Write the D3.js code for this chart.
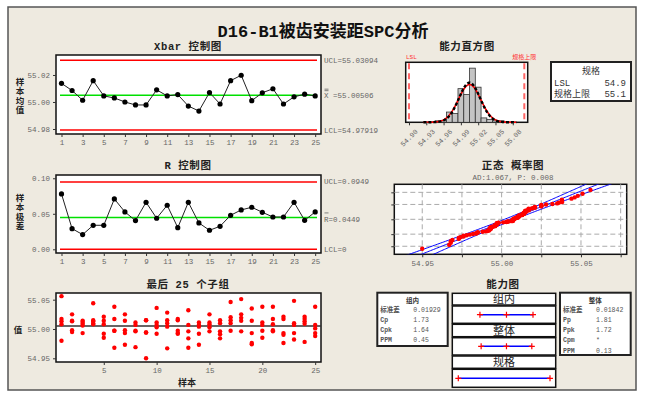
<!DOCTYPE html>
<html>
<head>
<meta charset="utf-8">
<script src="https://cdn.jsdelivr.net/npm/d3@7.9.0/dist/d3.min.js"></script>
<style>
  body { margin: 0; background: #fff; }
  svg { display: block; }
  text { font-family: "Liberation Mono", "Noto Sans CJK SC", monospace; }
</style>
</head>
<body>
<svg id="chart" width="645" height="396"></svg>
<script>
// ---- data ----
const subgroupIds = [1,2,3,4,5,6,7,8,9,10,11,12,13,14,15,16,17,18,19,20,21,22,23,24,25];
const xbarValues = [55.0138,55.0085,55.0013,55.0158,55.0045,55.0030,55.0000,54.9978,54.9978,55.0090,
                    55.0045,55.0055,54.9970,54.9933,55.0070,54.9985,55.0158,55.0198,55.0010,55.0068,
                    55.0098,54.9985,55.0038,55.0058,55.0045];
const rangeValues = [0.0779,0.0291,0.0207,0.0338,0.0338,0.0709,0.0526,0.0404,0.0662,0.0437,
                     0.0620,0.0305,0.0662,0.0371,0.0268,0.0324,0.0479,0.0554,0.0592,0.0521,
                     0.0455,0.0455,0.0662,0.0408,0.0526];
// five measurements per subgroup
const subgroupData = [
  [55.056,55.017,55.013,55.008,54.980],
  [55.025,55.014,55.013,54.998,54.995],
  [55.014,55.012,55.009,55.006,54.993],
  [55.044,55.015,55.013,55.010,55.008],
  [55.021,55.014,55.008,54.992,54.985],
  [55.038,55.017,54.997,54.997,54.968],
  [55.025,55.014,54.998,54.993,54.973],
  [55.011,55.007,54.997,54.996,54.969],
  [55.015,55.015,54.994,54.994,54.950],
  [55.036,55.011,55.007,55.003,54.992],
  [55.028,55.015,55.010,55.004,54.967],
  [55.017,55.015,54.997,54.993,54.992],
  [55.032,55.007,54.996,54.984,54.968],
  [55.011,55.007,55.004,54.992,54.973],
  [55.025,55.011,55.008,55.003,54.996],
  [55.015,55.010,54.996,54.991,54.984],
  [55.046,55.020,55.015,55.010,54.997],
  [55.051,55.025,55.019,55.014,54.996],
  [55.035,55.014,54.993,54.976,54.974],
  [55.038,55.011,55.007,54.997,54.985],
  [55.038,55.017,55.008,54.998,54.996],
  [55.021,55.017,54.993,54.990,54.976],
  [55.048,55.010,55.007,54.993,54.982],
  [55.021,55.017,55.013,55.009,54.978],
  [55.038,55.007,55.001,54.993,54.988]
];
const xbarLimits = { ucl: 55.03094, cl: 55.00506, lcl: 54.97919 };
const rLimits = { ucl: 0.0949, cl: 0.0449, lcl: 0 };
const LSL = 54.9, USL = 55.1;
const sigmaWithin = 0.01929, sigmaOverall = 0.01842;

const histBinStart = [54.945,54.955,54.965,54.975,54.985,54.995,55.005,55.015,55.025,55.035,55.045,55.055];
const histCounts   = [1,1,7,6,23,19,37,24,3,2,1,1];
const histBinWidth = 0.01;
const histTicks = [54.90,54.93,54.96,54.99,55.02,55.05,55.08];

const xbarTicksX = [1,3,5,7,9,11,13,15,17,19,21,23,25];
const xbarTicksY = [54.98,55.00,55.02];
const rTicksY = [0.00,0.05,0.10];
const lastTicksX = [5,10,15,20,25];
const lastTicksY = [54.95,55.00,55.05];
const probTicksX = [54.95,55.00,55.05];
const probGridX = [54.95,54.975,55.00,55.025,55.05,55.075];
const probGridPct = [1,10,50,90,99];

const withinStats = [["标准差","0.01929"],["Cp","1.73"],["Cpk","1.64"],["PPM","0.45"]];
const overallStats = [["标准差","0.01842"],["Pp","1.81"],["Ppk","1.72"],["Cpm","*"],["PPM","0.13"]];

// ---- helpers ----
const svg = d3.select('#chart');
const GRAY = '#666';
const CJK = '"Noto Sans CJK SC", sans-serif';

function qnorm(p) {
  const a=[-3.969683028665376e+01,2.209460984245205e+02,-2.759285104469687e+02,1.383577518672690e+02,-3.066479806614716e+01,2.506628277459239e+00];
  const b=[-5.447609879822406e+01,1.615858368580409e+02,-1.556989798598866e+02,6.680131188771972e+01,-1.328068155288572e+01];
  const c=[-7.784894002430293e-03,-3.223964580411365e-01,-2.400758277161838e+00,-2.549732539343734e+00,4.374664141464968e+00,2.938163982698783e+00];
  const d=[7.784695709041462e-03,3.224671290700398e-01,2.445134137625130e+00,3.754408661907416e+00];
  const pl = 0.02425;
  let q, r;
  if (p < pl) {
    q = Math.sqrt(-2*Math.log(p));
    return (((((c[0]*q+c[1])*q+c[2])*q+c[3])*q+c[4])*q+c[5])/((((d[0]*q+d[1])*q+d[2])*q+d[3])*q+1);
  }
  if (p > 1-pl) {
    q = Math.sqrt(-2*Math.log(1-p));
    return -(((((c[0]*q+c[1])*q+c[2])*q+c[3])*q+c[4])*q+c[5])/((((d[0]*q+d[1])*q+d[2])*q+d[3])*q+1);
  }
  q = p-0.5; r = q*q;
  return (((((a[0]*r+a[1])*r+a[2])*r+a[3])*r+a[4])*r+a[5])*q/(((((b[0]*r+b[1])*r+b[2])*r+b[3])*r+b[4])*r+1);
}
const npdf = (v, mu, s) => Math.exp(-0.5*((v-mu)/s)**2)/(s*Math.sqrt(2*Math.PI));

function box(x0, y0, x1, y1, sw) {
  svg.append('rect').attr('x', x0).attr('y', y0).attr('width', x1-x0).attr('height', y1-y0)
    .attr('fill', '#fff').attr('stroke', '#111').attr('stroke-width', sw || 1.5);
}
function styleAxis(g) {
  g.select('.domain').remove();
  g.selectAll('line').attr('stroke', '#333');
  g.selectAll('text').attr('fill', GRAY).attr('font-size', 7.5)
    .attr('font-family', '"Liberation Mono", monospace');
}
function title(x, y, str, size) {
  svg.append('text').attr('x', x).attr('y', y).attr('text-anchor', 'middle')
    .attr('font-weight', 'bold').attr('font-size', size || 10.5).attr('letter-spacing', 0.6)
    .attr('fill', '#222').text(str);
}
function vlabel(x, yc, str) {
  const chars = str.split('');
  const pitch = 9.5;
  const t = svg.append('text').attr('font-family', CJK).attr('font-weight', 'bold')
    .attr('font-size', 8.5).attr('fill', '#222').attr('text-anchor', 'middle');
  chars.forEach((ch, i) => {
    t.append('tspan').attr('x', x).attr('y', yc - (chars.length-1)*pitch/2 + i*pitch + 3).text(ch);
  });
}
function hline(x0, x1, y, color, w) {
  svg.append('line').attr('x1', x0).attr('x2', x1).attr('y1', y).attr('y2', y)
    .attr('stroke', color).attr('stroke-width', w);
}
function sideLabel(x, y, str) {
  return svg.append('text').attr('x', x).attr('y', y + 2.5).attr('fill', GRAY).attr('font-size', 7.5)
    .attr('font-family', '"Liberation Mono", monospace').text(str);
}

// ---- background frame ----
svg.append('rect').attr('width', 645).attr('height', 396).attr('fill', '#fff');
svg.append('rect').attr('x', 8).attr('y', 7).attr('width', 628).attr('height', 383)
  .attr('fill', '#eeeae0').attr('stroke', '#555').attr('stroke-width', 1.5);

svg.append('text').attr('x', 323).attr('y', 37).attr('text-anchor', 'middle')
  .attr('font-family', '"Liberation Serif", "Noto Sans CJK SC", serif').attr('font-weight', 'bold')
  .attr('font-size', 17).attr('fill', '#111').text('D16-B1被齿安装距SPC分析');

// shared x scale for the three left charts
const xs = d3.scaleLinear().domain([0.48, 25.55]).range([56, 321]);
const L = 56, R = 321;

// ---- Xbar chart ----
{
  const y0 = 55, y1 = 134;
  const y = d3.scaleLinear().domain([54.9763, 55.0348]).range([y1, y0]);
  title(188, 50, 'Xbar 控制图');
  box(L, y0, R, y1);
  hline(L+4, R-4, y(xbarLimits.ucl), '#ff0000', 1.5);
  hline(L+4, R-4, y(xbarLimits.lcl), '#ff0000', 1.5);
  hline(L+4, R-4, y(xbarLimits.cl), '#00e000', 1.5);
  svg.append('path').datum(xbarValues)
    .attr('d', d3.line().x((d, i) => xs(subgroupIds[i])).y(d => y(d)))
    .attr('fill', 'none').attr('stroke', '#222').attr('stroke-width', 1);
  svg.selectAll('.xbarpt').data(xbarValues).join('circle')
    .attr('cx', (d, i) => xs(subgroupIds[i])).attr('cy', d => y(d)).attr('r', 2.6).attr('fill', '#000');
  svg.append('g').attr('transform', `translate(${L},0)`)
    .call(d3.axisLeft(y).tickValues(xbarTicksY).tickSize(3).tickFormat(d3.format('.2f'))).call(styleAxis);
  svg.append('g').attr('transform', `translate(0,${y1})`)
    .call(d3.axisBottom(xs).tickValues(xbarTicksX).tickSize(3)).call(styleAxis);
  sideLabel(324, y(xbarLimits.ucl), 'UCL=' + xbarLimits.ucl);
  sideLabel(324, y(xbarLimits.lcl), 'LCL=' + xbarLimits.lcl);
  sideLabel(324, y(xbarLimits.cl), 'X =' + xbarLimits.cl);
  const yy = y(xbarLimits.cl);
  hline(324.5, 328.5, yy - 6, GRAY, 0.8);
  hline(324.5, 328.5, yy - 4.5, GRAY, 0.8);
  vlabel(20, 96, '样本均值');
}

// ---- R chart ----
{
  const y0 = 175, y1 = 253;
  const y = d3.scaleLinear().domain([-0.0052, 0.1046]).range([y1, y0]);
  title(188, 169, 'R 控制图');
  box(L, y0, R, y1);
  hline(L+4, R-4, y(rLimits.ucl), '#ff0000', 1.5);
  hline(L+4, R-4, y(rLimits.lcl), '#ff0000', 1.5);
  hline(L+4, R-4, y(rLimits.cl), '#00e000', 1.5);
  svg.append('path').datum(rangeValues)
    .attr('d', d3.line().x((d, i) => xs(subgroupIds[i])).y(d => y(d)))
    .attr('fill', 'none').attr('stroke', '#222').attr('stroke-width', 1);
  svg.selectAll('.rpt').data(rangeValues).join('circle')
    .attr('cx', (d, i) => xs(subgroupIds[i])).attr('cy', d => y(d)).attr('r', 2.6).attr('fill', '#000');
  svg.append('g').attr('transform', `translate(${L},0)`)
    .call(d3.axisLeft(y).tickValues(rTicksY).tickSize(3).tickFormat(d3.format('.2f'))).call(styleAxis);
  svg.append('g').attr('transform', `translate(0,${y1})`)
    .call(d3.axisBottom(xs).tickValues(xbarTicksX).tickSize(3)).call(styleAxis);
  sideLabel(324, y(rLimits.ucl), 'UCL=' + rLimits.ucl);
  sideLabel(324, y(rLimits.lcl), 'LCL=' + rLimits.lcl);
  sideLabel(324, y(rLimits.cl) + 2, 'R=' + rLimits.cl);
  hline(324.5, 328.5, y(rLimits.cl) - 4.5, GRAY, 0.8);
  vlabel(20, 212, '样本极差');
}

// ---- last 25 subgroups ----
{
  const y0 = 293, y1 = 362;
  const y = d3.scaleLinear().domain([54.9437, 55.0614]).range([y1, y0]);
  title(188, 288, '最后 25 个子组');
  box(L, y0, R, y1);
  hline(L, R, y(xbarLimits.cl), '#333', 1.5);
  const pts = subgroupData.flatMap((g, i) => g.map(v => ({ id: subgroupIds[i], v })));
  svg.selectAll('.lpt').data(pts).join('circle')
    .attr('cx', d => xs(d.id)).attr('cy', d => y(d.v)).attr('r', 2.2).attr('fill', '#ff0000');
  svg.append('g').attr('transform', `translate(${L},0)`)
    .call(d3.axisLeft(y).tickValues(lastTicksY).tickSize(3).tickFormat(d3.format('.2f'))).call(styleAxis);
  svg.append('g').attr('transform', `translate(0,${y1})`)
    .call(d3.axisBottom(xs).tickValues(lastTicksX).tickSize(3)).call(styleAxis);
  svg.append('text').attr('x', 187).attr('y', 386).attr('text-anchor', 'middle')
    .attr('font-family', CJK).attr('font-weight', 'bold').attr('font-size', 9).attr('fill', '#222').text('样本');
  vlabel(18, 330, '值');
}

// ---- capability histogram ----
{
  const x0 = 405.7, x1 = 527.7, y0 = 62.3, y1 = 122.3;
  const hx = d3.scaleLinear().domain([54.8943, 55.1059]).range([x0, x1]);
  const hy = d3.scaleLinear().domain([0, 41]).range([y1, y0]);
  title(467, 50, '能力直方图');
  box(x0, y0, x1, y1);
  svg.selectAll('.bar').data(histCounts).join('rect')
    .attr('x', (d, i) => hx(histBinStart[i])).attr('width', (d, i) => hx(histBinStart[i] + histBinWidth) - hx(histBinStart[i]))
    .attr('y', d => hy(d)).attr('height', d => hy(0) - hy(d))
    .attr('fill', '#c4c4c4').attr('stroke', '#333').attr('stroke-width', 0.8);
  const n = d3.sum(histCounts);
  const curveX = d3.range(54.925, 55.086, 0.001);
  const line = s => d3.line().x(v => hx(v)).y(v => hy(n * histBinWidth * npdf(v, xbarLimits.cl, s)));
  svg.append('path').datum(curveX).attr('d', line(sigmaWithin))
    .attr('fill', 'none').attr('stroke', '#ff0000').attr('stroke-width', 1.6);
  svg.append('path').datum(curveX).attr('d', line(sigmaOverall))
    .attr('fill', 'none').attr('stroke', '#000').attr('stroke-width', 2.4).attr('stroke-dasharray', '3,2');
  [LSL, USL].forEach(v => {
    svg.append('line').attr('x1', hx(v)).attr('x2', hx(v)).attr('y1', y0 + 1).attr('y2', y1 - 1)
      .attr('stroke', '#ff6666').attr('stroke-width', 2).attr('stroke-dasharray', '6,4');
  });
  svg.append('text').attr('x', hx(LSL) - 3).attr('y', 59).attr('fill', '#ff3333').attr('font-size', 6)
    .text('LSL');
  svg.append('text').attr('x', hx(USL)).attr('y', 59).attr('text-anchor', 'middle').attr('fill', '#ff3333')
    .attr('font-family', CJK).attr('font-size', 6).text('规格上限');
  const g = svg.append('g').attr('transform', `translate(0,${y1})`)
    .call(d3.axisBottom(hx).tickValues(histTicks).tickSize(3).tickFormat(d3.format('.2f'))).call(styleAxis);
  g.selectAll('text').attr('font-size', 7).attr('text-anchor', 'end')
    .attr('transform', 'translate(3,4) rotate(-45)').attr('dy', '0.3em');
}

// spec box
{
  const bx0 = 551, bx1 = 631, by0 = 62, by1 = 101;
  svg.append('rect').attr('x', bx0).attr('y', by0).attr('width', bx1 - bx0).attr('height', by1 - by0)
    .attr('fill', '#fff').attr('stroke', '#222').attr('stroke-width', 2);
  svg.append('text').attr('x', (bx0 + bx1) / 2).attr('y', 74).attr('text-anchor', 'middle')
    .attr('font-family', CJK).attr('font-size', 9).attr('fill', '#333').text('规格');
  [['LSL', LSL], ['规格上限', USL]].forEach(([k, v], i) => {
    svg.append('text').attr('x', bx0 + 3).attr('y', 85.5 + i * 11).attr('font-size', 9).attr('fill', '#333').text(k);
    svg.append('text').attr('x', bx1 - 5).attr('y', 85.5 + i * 11).attr('text-anchor', 'end')
      .attr('font-size', 9).attr('fill', '#333').text(v.toFixed(1));
  });
}

// ---- normal probability plot ----
{
  const x0 = 394.3, x1 = 626.7, y0 = 184.3, y1 = 254.3;
  const px = d3.scaleLinear().domain([54.9324, 55.0788]).range([x0, x1]);
  const pz = d3.scaleLinear().domain([-3.02, 3.02]).range([y1, y0]);
  title(513, 169, '正态 概率图');
  svg.append('text').attr('x', 513).attr('y', 180).attr('text-anchor', 'middle')
    .attr('font-size', 7.5).attr('fill', GRAY).text('AD:1.067, P: 0.008');
  box(x0, y0, x1, y1);
  const grid = svg.append('g').attr('stroke', '#aaa').attr('stroke-width', 1).attr('stroke-dasharray', '5,3');
  probGridX.forEach(v => grid.append('line').attr('x1', px(v)).attr('x2', px(v)).attr('y1', y0).attr('y2', y1));
  probGridPct.forEach(p => grid.append('line').attr('x1', x0).attr('x2', x1)
    .attr('y1', pz(qnorm(p / 100))).attr('y2', pz(qnorm(p / 100))));
  svg.append('clipPath').attr('id', 'pclip').append('rect')
    .attr('x', x0).attr('y', y0).attr('width', x1 - x0).attr('height', y1 - y0);
  const all = subgroupData.flat().sort(d3.ascending);
  const n = all.length;
  const zs = d3.range(-3.4, 3.41, 0.05);
  const fit = z => xbarLimits.cl + z * sigmaOverall;
  const band = (z, k) => fit(z) + k * 1.96 * sigmaOverall * Math.sqrt(1 / n + z * z / (2 * (n - 1)));
  const cg = svg.append('g').attr('clip-path', 'url(#pclip)');
  [-1, 0, 1].forEach(k => {
    cg.append('path').datum(zs).attr('d', d3.line().x(z => px(band(z, k))).y(z => pz(z)))
      .attr('fill', 'none').attr('stroke', '#0000ff').attr('stroke-width', 1);
  });
  cg.selectAll('.ppt').data(all).join('circle')
    .attr('cx', d => px(d)).attr('cy', (d, i) => pz(qnorm((i + 1 - 0.3) / (n + 0.4))))
    .attr('r', 2.2).attr('fill', '#ff0000');
  svg.append('g').attr('transform', `translate(0,${y1})`)
    .call(d3.axisBottom(px).tickValues(probGridX).tickSize(3).tickFormat(v => probTicksX.includes(v) ? d3.format('.2f')(v) : ''))
    .call(styleAxis);
  svg.append('g').attr('transform', `translate(${x0},0)`)
    .call(d3.axisLeft(pz).tickValues(probGridPct.map(p => qnorm(p / 100))).tickSize(3).tickFormat(''))
    .call(styleAxis);
}

// ---- capability plot ----
{
  title(503, 288, '能力图');
  const cx = d3.scaleLinear().domain([LSL, USL]).range([458.3, 550]);
  const mx0 = 452.3, mx1 = 555.7;
  const rows = [
    { name: '组内', hy: [293.3, 305], py: [306, 323.3], lo: xbarLimits.cl - 3 * sigmaWithin, hi: xbarLimits.cl + 3 * sigmaWithin, mid: true },
    { name: '整体', hy: [324.3, 336.7], py: [337.7, 355], lo: xbarLimits.cl - 3 * sigmaOverall, hi: xbarLimits.cl + 3 * sigmaOverall, mid: true },
    { name: '规格', hy: [356, 368.3], py: [369.3, 387.3], lo: LSL, hi: USL, mid: false }
  ];
  const plus = (x, y) => svg.append('path').attr('d', `M${x - 3},${y}H${x + 3}M${x},${y - 3}V${y + 3}`)
    .attr('stroke', '#ff0000').attr('stroke-width', 1.2);
  rows.forEach(r => {
    box(mx0, r.hy[0], mx1, r.hy[1], 1.5);
    svg.append('text').attr('x', (mx0 + mx1) / 2).attr('y', r.hy[1] - 2).attr('text-anchor', 'middle')
      .attr('font-family', CJK).attr('font-size', 11).attr('fill', '#222').text(r.name);
    box(mx0, r.py[0], mx1, r.py[1], 1.5);
    const yy = (r.py[0] + r.py[1]) / 2;
    hline(cx(r.lo), cx(r.hi), yy, '#0000ff', 1.5);
    plus(cx(r.lo), yy); plus(cx(r.hi), yy);
    if (r.mid) plus(cx(xbarLimits.cl), yy);
  });
  const statBox = (x0, x1, y1, head, stats) => {
    svg.append('rect').attr('x', x0).attr('y', 292.7).attr('width', x1 - x0).attr('height', y1 - 292.7)
      .attr('fill', '#fff').attr('stroke', '#222').attr('stroke-width', 2);
    svg.append('text').attr('x', (x0 + x1) / 2).attr('y', 302.5).attr('text-anchor', 'middle')
      .attr('font-family', CJK).attr('font-weight', 'bold').attr('font-size', 6.5).attr('fill', '#333').text(head);
    stats.forEach(([k, v], i) => {
      const yy = 311.8 + i * 10.2;
      svg.append('text').attr('x', x0 + 3).attr('y', yy).attr('font-family', '"Liberation Mono", "Noto Sans CJK SC"')
        .attr('font-weight', 'bold').attr('font-size', 6.5).attr('fill', '#555').text(k);
      svg.append('text').attr('x', x0 + 36).attr('y', yy).attr('font-size', 6.5).attr('fill', '#555').text(v);
    });
  };
  statBox(377.3, 447.7, 346, '组内', withinStats);
  statBox(560, 630.7, 355, '整体', overallStats);
}
</script>
</body>
</html>
